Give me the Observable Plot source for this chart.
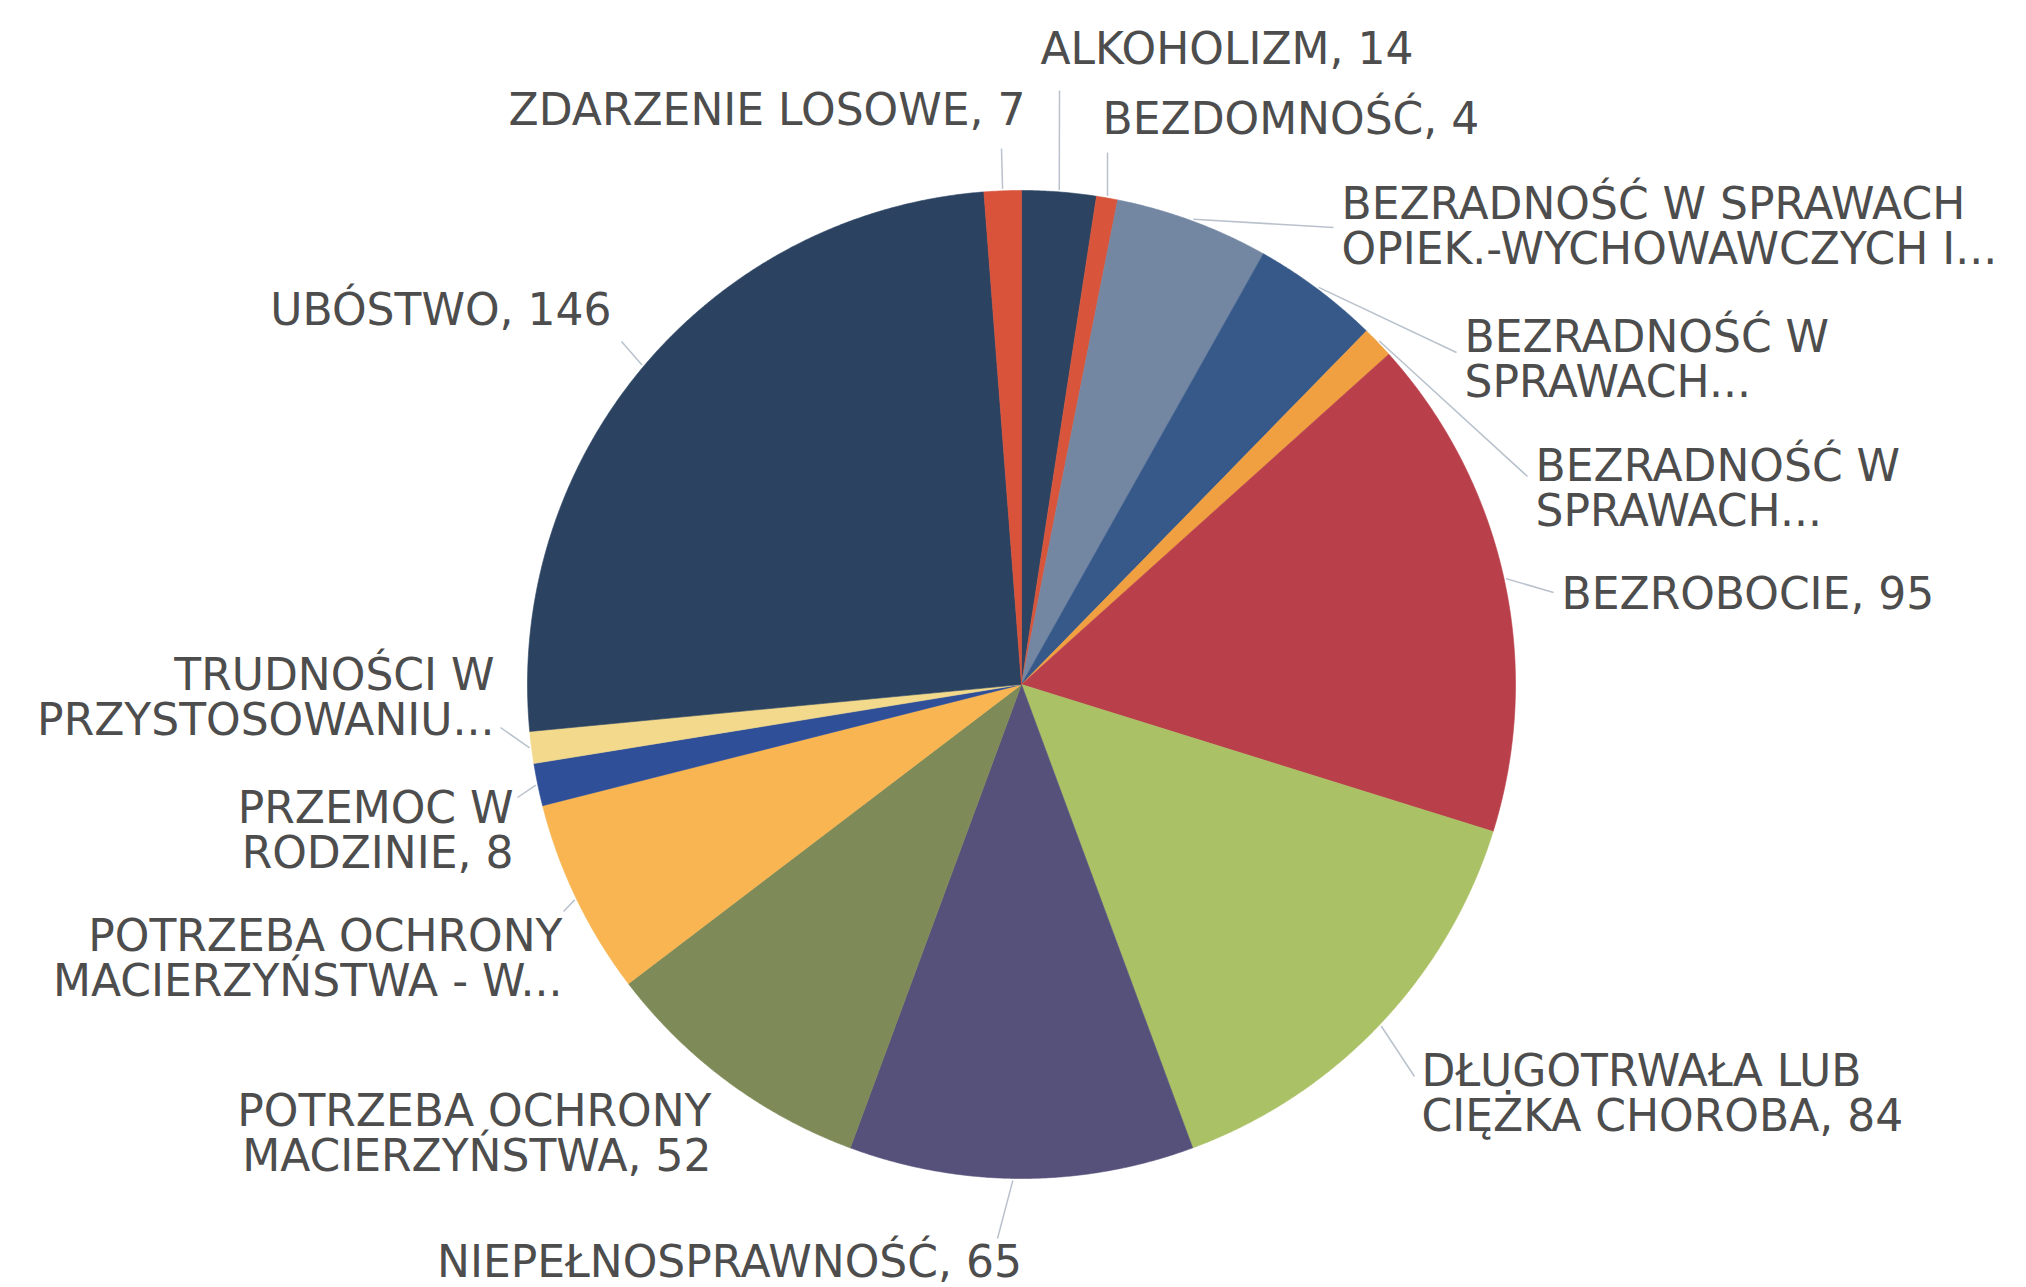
<!DOCTYPE html>
<html>
<head>
<meta charset="utf-8">
<script src="https://cdn.jsdelivr.net/npm/d3@7"></script>
<script src="https://cdn.jsdelivr.net/npm/@observablehq/plot@0.6"></script>
<style>
  html, body { margin: 0; padding: 0; background: #ffffff; }
  #chart { width: 2026px; height: 1287px; }
</style>
</head>
<body>
<div id="chart"></div>
<script>
// ---- data (clockwise from 12 o'clock) ----
const categories = [
  "ALKOHOLIZM",
  "BEZDOMNOŚĆ",
  "BEZRADNOŚĆ W SPRAWACH OPIEK.-WYCHOWAWCZYCH I...",
  "BEZRADNOŚĆ W SPRAWACH... (A)",
  "BEZRADNOŚĆ W SPRAWACH... (B)",
  "BEZROBOCIE",
  "DŁUGOTRWAŁA LUB CIĘŻKA CHOROBA",
  "NIEPEŁNOSPRAWNOŚĆ",
  "POTRZEBA OCHRONY MACIERZYŃSTWA",
  "POTRZEBA OCHRONY MACIERZYŃSTWA - W...",
  "PRZEMOC W RODZINIE",
  "TRUDNOŚCI W PRZYSTOSOWANIU...",
  "UBÓSTWO",
  "ZDARZENIE LOSOWE"
];
const values = [14, 4, 29, 24, 6, 95, 84, 65, 52, 37, 8, 6, 146, 7];
const labelTexts = [
  "ALKOHOLIZM, 14",
  "BEZDOMNOŚĆ, 4",
  "BEZRADNOŚĆ W SPRAWACH\nOPIEK.-WYCHOWAWCZYCH I...",
  "BEZRADNOŚĆ W\nSPRAWACH...",
  "BEZRADNOŚĆ W\nSPRAWACH...",
  "BEZROBOCIE, 95",
  "DŁUGOTRWAŁA LUB\nCIĘŻKA CHOROBA, 84",
  "NIEPEŁNOSPRAWNOŚĆ, 65",
  "POTRZEBA OCHRONY\nMACIERZYŃSTWA, 52",
  "POTRZEBA OCHRONY\nMACIERZYŃSTWA - W...",
  "PRZEMOC W\nRODZINIE, 8",
  "TRUDNOŚCI W\nPRZYSTOSOWANIU...",
  "UBÓSTWO, 146",
  "ZDARZENIE LOSOWE, 7"
];

// ---- styles ----
const sliceColors = [
  "#2c4462", "#d8553b", "#7386a2", "#36598a", "#f0a040",
  "#b9404b", "#abc166", "#56517a", "#7e8b58", "#f8b552",
  "#2f4f98", "#f2d98b", "#2b4361", "#d9533a"
];

// ---- layout (pixel space) ----
const W = 2026, H = 1287;
const cx = 1021, cy = 684, R = 494;
// label position [x, y, anchor], leader end [x, y] (null = none), optional leader start angle (deg)
const labelLayout = [
  [1040, 49, "start", [1059, 90]],
  [1102, 119, "start", [1107, 152]],
  [1341, 227, "start", [1333, 227]],
  [1464, 360, "start", [1456, 352]],
  [1535, 489, "start", [1527, 476]],
  [1561, 594, "start", [1553, 592]],
  [1421, 1094, "start", [1414, 1076]],
  [729, 1262, "middle", [997, 1238], 181],
  [711, 1134, "end", null],
  [562, 959, "end", [563, 911]],
  [513, 831, "end", [517, 797]],
  [494, 698, "end", [500, 727]],
  [611, 310, "end", [621, 341]],
  [1025, 110, "end", [1001, 148]]
];

// ---- build slice polygons from values ----
const total = d3.sum(values);
const slicePts = [];
const mids = [];
let acc = 0;
values.forEach((v, i) => {
  const a0 = acc / total * 2 * Math.PI;
  acc += v;
  const a1 = acc / total * 2 * Math.PI;
  mids.push((a0 + a1) / 2);
  slicePts.push({i, x: cx, y: cy});
  const n = Math.max(4, Math.ceil((a1 - a0) / (Math.PI / 720)));
  for (let j = 0; j <= n; j++) {
    const a = a0 + (a1 - a0) * j / n;
    slicePts.push({i, x: cx + R * Math.sin(a), y: cy - R * Math.cos(a)});
  }
  slicePts.push({i, x: cx, y: cy});
});

const labels = labelTexts.map((t, i) => ({
  i, text: t, x: labelLayout[i][0], y: labelLayout[i][1], anchor: labelLayout[i][2]
}));

const leaders = [];
labelLayout.forEach((l, i) => {
  if (!l[3]) return;
  const a = l[4] != null ? l[4] * Math.PI / 180 : mids[i];
  const rr = R + 2;
  leaders.push({
    x1: cx + rr * Math.sin(a), y1: cy - rr * Math.cos(a),
    x2: l[3][0], y2: l[3][1]
  });
});

const textOpts = {
  x: "x", y: "y", text: "text",
  fontSize: 44, lineHeight: 1.02, fill: "#4d4d4d",
  fontFamily: "DejaVu Sans"
};

const chart = Plot.plot({
  width: W,
  height: H,
  margin: 0,
  x: {domain: [0, W], range: [0, W], axis: null},
  y: {domain: [0, H], range: [0, H], axis: null},
  color: {type: "ordinal", domain: d3.range(values.length), range: sliceColors},
  style: {background: "#ffffff", fontFamily: "DejaVu Sans"},
  marks: [
    Plot.line(slicePts, {x: "x", y: "y", z: "i", fill: "i", stroke: "i", strokeWidth: 0.6, curve: "linear"}),
    Plot.link(leaders, {x1: "x1", y1: "y1", x2: "x2", y2: "y2", stroke: "#b9c2cc", strokeWidth: 1.5}),
    Plot.text(labels.filter(d => d.anchor === "start"), {...textOpts, textAnchor: "start"}),
    Plot.text(labels.filter(d => d.anchor === "end"), {...textOpts, textAnchor: "end"}),
    Plot.text(labels.filter(d => d.anchor === "middle"), {...textOpts, textAnchor: "middle"})
  ]
});
document.getElementById("chart").appendChild(chart);
</script>
</body>
</html>
